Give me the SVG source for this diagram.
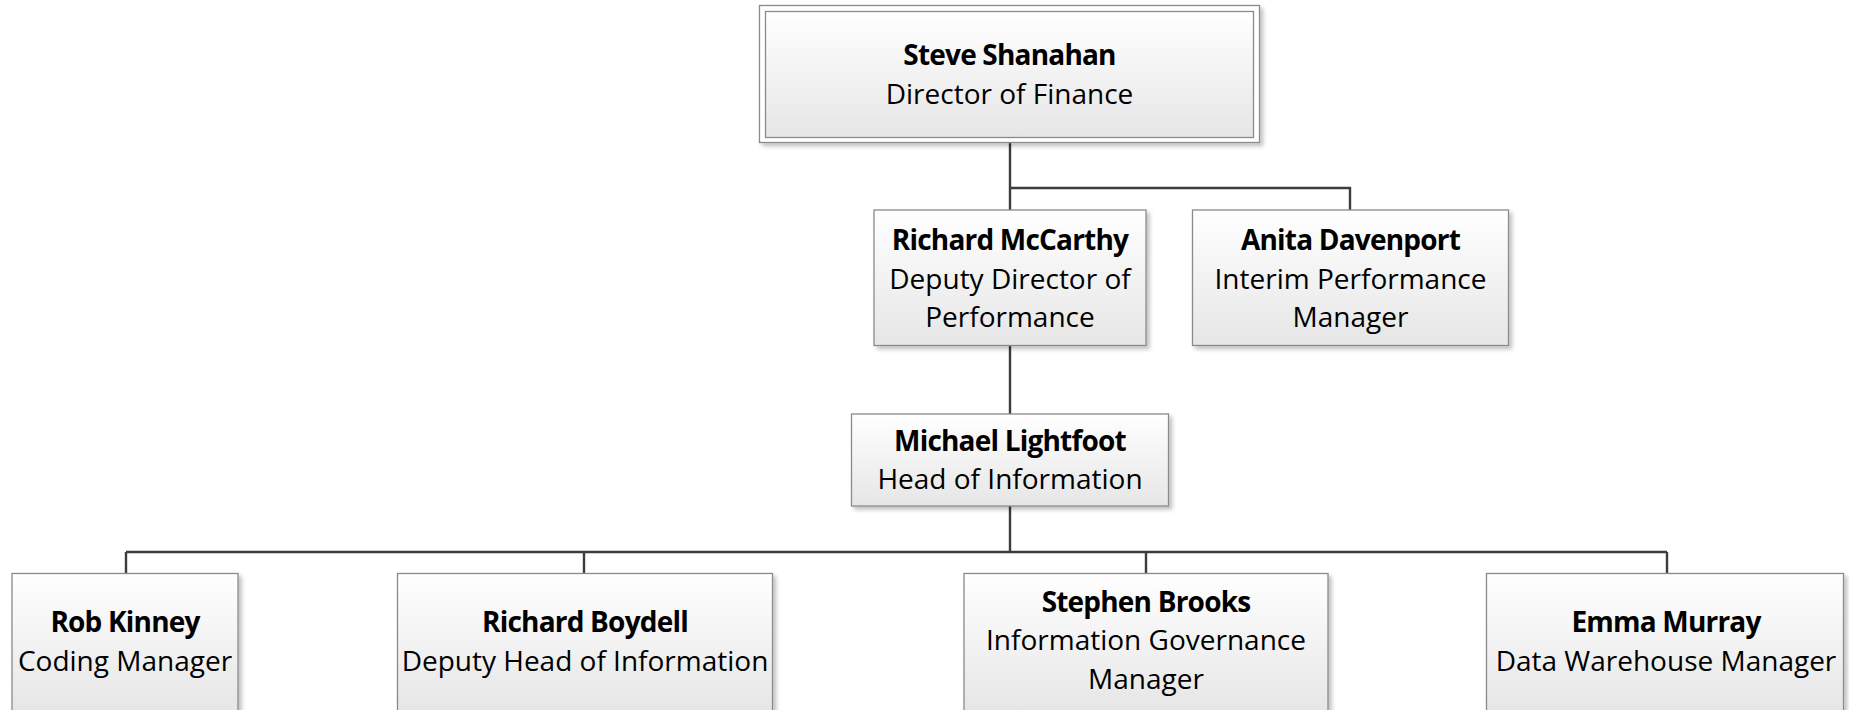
<svg xmlns="http://www.w3.org/2000/svg" width="1849" height="710" viewBox="0 0 1849 710">
<defs>
<linearGradient id="g" x1="0" y1="0" x2="0" y2="1">
<stop offset="0" stop-color="#ffffff"/>
<stop offset="1" stop-color="#e6e6e6"/>
</linearGradient>
<filter id="sh" x="-5%" y="-5%" width="115%" height="120%">
<feGaussianBlur in="SourceAlpha" stdDeviation="2"/>
<feOffset dx="3" dy="3" result="b"/>
<feComponentTransfer><feFuncA type="linear" slope="0.25"/></feComponentTransfer>
<feMerge><feMergeNode/><feMergeNode in="SourceGraphic"/></feMerge>
</filter>
</defs>
<style>
.box{fill:url(#g);stroke:#8a8a8a;stroke-width:1.3}
.outer{fill:#ffffff;stroke:#8a8a8a;stroke-width:1.3}
.conn{fill:none;stroke:#3c3c3c;stroke-width:2.4}
text{font-family:"Open Sans","Noto Sans",sans-serif;font-size:28px;fill:#000;text-anchor:middle}
.b{font-weight:bold;letter-spacing:-0.8px}
</style>
<g id="connectors">
<path class="conn" d="M1010,142.5 V188 H1350 V210 M1010,188 V210"/>
<path class="conn" d="M1010,345.5 V414"/>
<path class="conn" d="M1010,506 V552 M126,552 H1667 M126,552 V573.5 M584,552 V573.5 M1146,552 V573.5 M1667,552 V573.5"/>
</g>
<g id="steve">
<rect class="outer" x="759.5" y="5.5" width="500" height="137" filter="url(#sh)"/>
<rect class="box" x="765.5" y="11.5" width="488" height="126"/>
<text class="b" x="1009.5" y="65">Steve Shanahan</text>
<text x="1009.5" y="104">Director of Finance</text>
</g>
<g id="mccarthy">
<rect class="box" x="874" y="210" width="272" height="135.5" filter="url(#sh)"/>
<text class="b" x="1010" y="250">Richard McCarthy</text>
<text x="1010" y="289">Deputy Director of</text>
<text x="1010" y="327">Performance</text>
</g>
<g id="anita">
<rect class="box" x="1192.5" y="210" width="316" height="135.5" filter="url(#sh)"/>
<text class="b" x="1350.5" y="250">Anita Davenport</text>
<text x="1350.5" y="289">Interim Performance</text>
<text x="1350.5" y="327">Manager</text>
</g>
<g id="michael">
<rect class="box" x="851.5" y="414" width="317" height="92" filter="url(#sh)"/>
<text class="b" x="1010" y="450.5">Michael Lightfoot</text>
<text x="1010" y="488.5">Head of Information</text>
</g>
<g id="rob">
<rect class="box" x="12" y="573.5" width="226" height="138" filter="url(#sh)"/>
<text class="b" x="125" y="632">Rob Kinney</text>
<text x="125" y="671">Coding Manager</text>
</g>
<g id="boydell">
<rect class="box" x="397.5" y="573.5" width="375" height="138" filter="url(#sh)"/>
<text class="b" x="585" y="632">Richard Boydell</text>
<text x="585" y="671">Deputy Head of Information</text>
</g>
<g id="brooks">
<rect class="box" x="964" y="573.5" width="364" height="138" filter="url(#sh)"/>
<text class="b" x="1146" y="612">Stephen Brooks</text>
<text x="1146" y="650">Information Governance</text>
<text x="1146" y="689">Manager</text>
</g>
<g id="murray">
<rect class="box" x="1486.5" y="573.5" width="357" height="138" filter="url(#sh)"/>
<text class="b" x="1666" y="632">Emma Murray</text>
<text x="1666" y="671">Data Warehouse Manager</text>
</g>
</svg>
